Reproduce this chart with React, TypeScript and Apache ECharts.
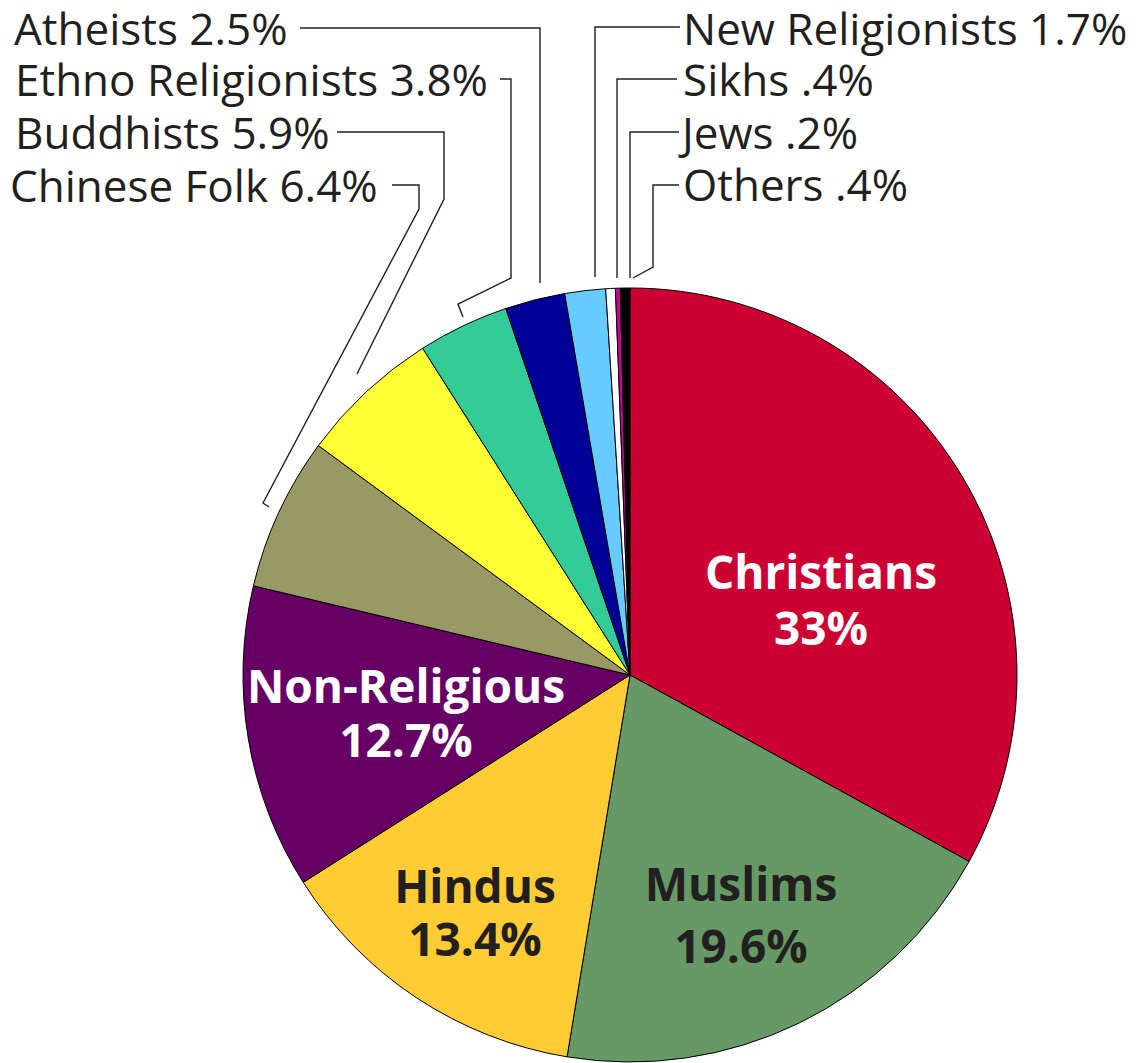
import React, { useEffect, useRef } from "react";
import * as echarts from "echarts";

// ---- Data ----
const religions = [
  "Christians",
  "Muslims",
  "Hindus",
  "Non-Religious",
  "Chinese Folk",
  "Buddhists",
  "Ethno Religionists",
  "Atheists",
  "New Religionists",
  "Sikhs",
  "Jews",
  "Others",
];
const shares = [33, 19.6, 13.4, 12.7, 6.4, 5.9, 3.8, 2.5, 1.7, 0.4, 0.2, 0.4];
const shareLabels = ["33%", "19.6%", "13.4%", "12.7%", "6.4%", "5.9%", "3.8%", "2.5%", "1.7%", ".4%", ".2%", ".4%"];
const sliceColors = [
  "#CC0033",
  "#669966",
  "#FFCC33",
  "#660066",
  "#999966",
  "#FFFF33",
  "#33CC99",
  "#000099",
  "#66CCFF",
  "#FFFFFF",
  "#CC0099",
  "#000000",
];
const insideLabelColors = ["#FFFFFF", "#231F20", "#231F20", "#FFFFFF"];

// ---- Layout (positions / styles, not data) ----
const FONT = "'Open Sans', 'Noto Sans', sans-serif";
const INK = "#231F20";

type InsideLayout = { x: number; y: number; lh: number };
const insideLayout: Record<number, InsideLayout> = {
  0: { x: 821, y: 599, lh: 56 },
  1: { x: 741, y: 914, lh: 62 },
  2: { x: 475, y: 911, lh: 53 },
  3: { x: 406, y: 712, lh: 54 },
};

type OutsideLayout = { x: number; y: number; line: number[][] };
const outsideLayout: Record<number, OutsideLayout> = {
  4: { x: 10, y: 185, line: [[269, 507], [263, 503], [419, 209], [419, 185], [392, 185]] },
  5: { x: 15, y: 132, line: [[357, 374], [444, 199], [444, 132], [337, 132]] },
  6: { x: 15, y: 79, line: [[463, 317], [458, 304], [511, 278], [511, 79], [500, 79]] },
  7: { x: 14, y: 28, line: [[540, 283], [540, 28], [300, 28]] },
  8: { x: 683, y: 28, line: [[595, 277], [595, 27], [680, 27]] },
  9: { x: 683, y: 79, line: [[617, 278], [617, 79], [677, 79]] },
  10: { x: 682, y: 132, line: [[630, 278], [630, 132], [679, 132]] },
  11: { x: 683, y: 184, line: [[633, 278], [653, 267], [653, 185], [679, 185]] },
};

export default function App() {
  const ref = useRef<HTMLDivElement>(null);

  useEffect(() => {
    if (!ref.current) return;
    const chart = echarts.init(ref.current, null, { renderer: "svg" });

    const data = religions.map((name, i) => {
      const inside = insideLayout[i] !== undefined;
      return {
        name,
        value: shares[i],
        itemStyle: { color: sliceColors[i] },
        label: inside
          ? {
              show: true,
              position: "inside",
              formatter: `${name}\n${shareLabels[i]}`,
              color: insideLabelColors[i],
              fontFamily: FONT,
              fontWeight: "bold",
              fontSize: 46,
              lineHeight: insideLayout[i].lh,
              align: "center",
            }
          : {
              show: true,
              position: "outside",
              formatter: `${name} ${shareLabels[i]}`,
              color: INK,
              fontFamily: FONT,
              fontWeight: "normal",
              fontSize: 44,
              lineHeight: 46,
            },
        labelLine: inside
          ? { show: false }
          : { show: true, lineStyle: { color: INK, width: 1.4 } },
      };
    });

    chart.setOption({
      animation: false,
      backgroundColor: "#FFFFFF",
      series: [
        {
          type: "pie",
          center: [630, 675],
          radius: 387,
          startAngle: 90,
          clockwise: true,
          avoidLabelOverlap: false,
          itemStyle: { borderColor: "#000000", borderWidth: 1 },
          emphasis: { disabled: true },
          data,
          labelLayout: (params: any) => {
            const i = params.dataIndex;
            if (insideLayout[i]) {
              const l = insideLayout[i];
              return { x: l.x, y: l.y, align: "center", verticalAlign: "middle" };
            }
            const o = outsideLayout[i];
            if (o) {
              return {
                x: o.x,
                y: o.y,
                align: "left",
                verticalAlign: "middle",
                labelLinePoints: o.line,
              };
            }
            return {};
          },
        },
      ],
    });

    return () => chart.dispose();
  }, []);

  return (
    <div
      ref={ref}
      style={{ position: "absolute", left: 0, top: 0, width: 1141, height: 1063 }}
    />
  );
}
